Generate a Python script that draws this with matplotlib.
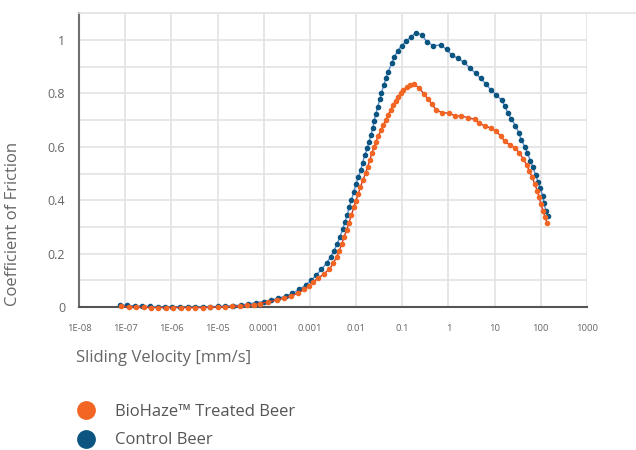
import numpy as np
import matplotlib
matplotlib.use("Agg")
import matplotlib.pyplot as plt
from matplotlib.lines import Line2D
from matplotlib.ticker import NullLocator

plt.rcParams['font.family'] = ['Open Sans', 'DejaVu Sans']

# log10 of sliding velocity [mm/s] and coefficient of friction
control_logv = [
    -7.11, -6.95, -6.79, -6.63, -6.46, -6.30, -6.14, -5.98, -5.81, -5.65,
    -5.49, -5.32, -5.16, -5.00, -4.84, -4.66, -4.49, -4.33, -4.17, -4.00,
    -3.84, -3.69, -3.52, -3.38, -3.23, -3.09, -2.97, -2.86, -2.75, -2.64,
    -2.55, -2.48, -2.41, -2.35, -2.29, -2.24, -2.19, -2.15, -2.10, -2.05,
    -2.00, -1.95, -1.90, -1.86, -1.81, -1.76, -1.72, -1.68, -1.64, -1.61,
    -1.57, -1.535, -1.485, -1.45, -1.40, -1.355, -1.305, -1.23, -1.175, -1.10,
    -1.015, -0.92, -0.81, -0.71, -0.57, -0.475, -0.33, -0.17, -0.04, 0.07,
    0.21, 0.34, 0.46, 0.59, 0.70, 0.81, 0.92, 1.04, 1.15, 1.22,
    1.29, 1.365, 1.45, 1.52, 1.58, 1.655, 1.71, 1.775, 1.83, 1.89,
    1.94, 1.99, 2.04, 2.07, 2.11, 2.145,
]
control_cof = [
    0.008, 0.006, 0.004, 0.003, 0.002, 0.001, 0.0, 0.0, 0.0, 0.0,
    0.0, 0.0, 0.001, 0.002, 0.003, 0.005, 0.007, 0.012, 0.016, 0.020,
    0.026, 0.033, 0.041, 0.051, 0.066, 0.082, 0.100, 0.120, 0.141, 0.164,
    0.188, 0.211, 0.236, 0.263, 0.291, 0.320, 0.345, 0.373, 0.401, 0.432,
    0.461, 0.488, 0.513, 0.541, 0.569, 0.594, 0.619, 0.644, 0.669, 0.698,
    0.723, 0.750, 0.778, 0.803, 0.831, 0.856, 0.881, 0.913, 0.935, 0.960,
    0.978, 0.995, 1.012, 1.027, 1.019, 0.994, 0.979, 0.981, 0.965, 0.944,
    0.931, 0.916, 0.896, 0.875, 0.856, 0.835, 0.813, 0.794, 0.775, 0.753,
    0.725, 0.703, 0.679, 0.653, 0.625, 0.600, 0.576, 0.548, 0.523, 0.494,
    0.469, 0.444, 0.416, 0.388, 0.361, 0.341,
]

biohaze_logv = [
    -7.08, -6.92, -6.76, -6.60, -6.44, -6.28, -6.12, -5.96, -5.80, -5.64,
    -5.48, -5.32, -5.16, -5.00, -4.84, -4.68, -4.52, -4.37, -4.22, -4.08,
    -3.90, -3.72, -3.56, -3.40, -3.25, -3.12, -3.02, -2.93, -2.82, -2.70,
    -2.58, -2.495, -2.42, -2.365, -2.31, -2.26, -2.205, -2.155, -2.10, -2.05,
    -2.005, -1.955, -1.905, -1.85, -1.795, -1.75, -1.70, -1.66, -1.615, -1.57,
    -1.52, -1.46, -1.41, -1.355, -1.305, -1.25, -1.195, -1.145, -1.09, -1.035,
    -0.98, -0.905, -0.84, -0.75, -0.63, -0.53, -0.44, -0.35, -0.27, -0.135,
    0.01, 0.14, 0.28, 0.43, 0.57, 0.66, 0.79, 0.92, 1.03, 1.13,
    1.22, 1.33, 1.44, 1.53, 1.62, 1.69, 1.75, 1.81, 1.87, 1.92,
    1.965, 2.00, 2.045, 2.09, 2.14,
]
biohaze_cof = [
    0.002, 0.001, 0.0, -0.001, -0.002, -0.002, -0.002, -0.002, -0.002, -0.002,
    -0.002, -0.002, -0.001, 0.0, 0.001, 0.002, 0.004, 0.006, 0.009, 0.013,
    0.019, 0.026, 0.034, 0.042, 0.053, 0.066, 0.080, 0.095, 0.107, 0.124,
    0.141, 0.164, 0.188, 0.211, 0.236, 0.263, 0.288, 0.316, 0.345, 0.373,
    0.398, 0.423, 0.451, 0.476, 0.501, 0.526, 0.551, 0.576, 0.598, 0.619,
    0.640, 0.663, 0.682, 0.700, 0.719, 0.738, 0.757, 0.773, 0.788, 0.800,
    0.813, 0.823, 0.830, 0.836, 0.819, 0.798, 0.778, 0.759, 0.738, 0.728,
    0.726, 0.716, 0.715, 0.709, 0.703, 0.688, 0.678, 0.670, 0.659, 0.641,
    0.620, 0.607, 0.596, 0.578, 0.555, 0.532, 0.511, 0.486, 0.461, 0.436,
    0.411, 0.386, 0.361, 0.338, 0.313,
]

x_ticks = [1e-8, 1e-7, 1e-6, 1e-5, 1e-4, 1e-3, 1e-2, 1e-1, 1, 10, 100, 1000]
x_tick_labels = ['1E-08', '1E-07', '1E-06', '1E-05', '0.0001', '0.001', '0.01',
                 '0.1', '1', '10', '100', '1000']
y_ticks = [0, 0.2, 0.4, 0.6, 0.8, 1]
y_tick_labels = ['0', '0.2', '0.4', '0.6', '0.8', '1']

series_names = ['BioHaze\u2122 Treated Beer', 'Control Beer']
orange = '#f26522'
orange_line = '#c8372d'
blue = '#0b5580'
blue_line = '#5b8bd0'
grid_c = '#e3e3e3'
text_c = '#666666'

fig = plt.figure(figsize=(6.36, 4.5), dpi=100)
ax = fig.add_axes([79 / 636, 1 - 307 / 450, (587 - 79) / 636, (307 - 13.3) / 450])

ax.plot(10 ** np.array(control_logv), control_cof, color=blue_line, lw=1.0,
        marker='o', ms=3.0, mfc=blue, mec=blue, clip_on=False, zorder=3)
ax.plot(10 ** np.array(biohaze_logv), biohaze_cof, color=orange_line, lw=1.0,
        marker='o', ms=3.0, mfc=orange, mec=orange, clip_on=False, zorder=4)

ax.set_xscale('log')
ax.set_xlim(1e-8, 1e3)
ax.set_ylim(0, 1.1)
ax.set_xticks(x_ticks)
ax.set_xticklabels(x_tick_labels)
ax.xaxis.set_minor_locator(NullLocator())
ax.set_yticks(y_ticks)
ax.set_yticklabels(y_tick_labels)
ax.set_yticks(np.arange(0.1, 1.11, 0.2), minor=True)
ax.tick_params(axis='both', which='both', length=0)
ax.tick_params(axis='x', labelsize=6.8, labelcolor=text_c, pad=12)
ax.tick_params(axis='y', labelsize=9, labelcolor=text_c, pad=10)
ax.grid(True, which='both', color=grid_c, lw=1.2)
ax.set_axisbelow(True)

for s in ['top', 'right']:
    ax.spines[s].set_visible(False)
ax.spines['left'].set_color('#6f6f6f')
ax.spines['left'].set_linewidth(1.5)
ax.spines['bottom'].set_color('#555555')
ax.spines['bottom'].set_linewidth(1.5)

# top border continues to the right edge
fig.add_artist(Line2D([79 / 636, 1.0], [1 - 13.3 / 450] * 2, color=grid_c, lw=1.2))

fig.text(13 / 636, 1 - 224 / 450, 'Coefficient of Friction', rotation=90,
         ha='center', va='center', fontsize=12, color=text_c)
fig.text(76 / 636, 1 - 358 / 450, 'Sliding Velocity [mm/s]',
         ha='left', va='center', fontsize=12, color=text_c)

handles = [Line2D([], [], ls='none', marker='o', ms=12.5, mfc=orange, mec=orange),
           Line2D([], [], ls='none', marker='o', ms=12.5, mfc=blue, mec=blue)]
fig.legend(handles, series_names, loc='upper left', bbox_to_anchor=(69 / 636, 1 - 404 / 450),
           frameon=False, fontsize=12, labelcolor='#555555', handletextpad=0.75,
           labelspacing=0.75, borderpad=0, borderaxespad=0)

fig.savefig('out.png', dpi=100)
